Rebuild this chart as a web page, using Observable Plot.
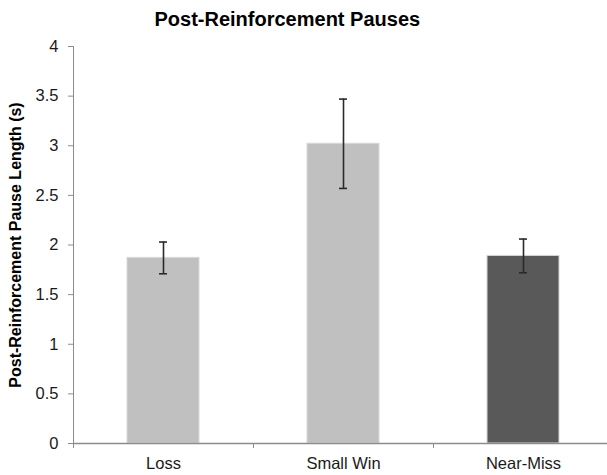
<!DOCTYPE html>
<html>
<head>
<meta charset="utf-8">
<script src="https://cdn.jsdelivr.net/npm/d3@7"></script>
<script src="https://cdn.jsdelivr.net/npm/@observablehq/plot@0.6"></script>
<style>
  html, body { margin: 0; padding: 0; background: #fff; overflow: hidden; }
  #chart svg { display: block; max-width: none !important; }
</style>
</head>
<body>
<div id="chart"></div>
<script>
// Mean post-reinforcement pause length by outcome, with error bars
const categories = ["Loss", "Small Win", "Near-Miss"];
const means = [1.87, 3.02, 1.89];
const errLow = [1.71, 2.57, 1.72];
const errHigh = [2.03, 3.47, 2.06];
const barColors = ["#c0c0c0", "#c0c0c0", "#595959"];
const yTicks = [0, 0.5, 1, 1.5, 2, 2.5, 3, 3.5, 4];
const title = "Post-Reinforcement Pauses";
const yLabel = "Post-Reinforcement Pause Length (s)";

const data = categories.map((c, i) => ({
  category: c, mean: means[i], low: errLow[i], high: errHigh[i], color: barColors[i]
}));

const axisGray = "#8c8c8c";
const font = "'Liberation Sans', Arial, sans-serif";

const chart = Plot.plot({
  width: 613,
  height: 475,
  marginTop: 46,
  marginBottom: 32,
  marginLeft: 73,
  marginRight: 0,
  style: { fontFamily: font, color: "#1a1a1a", background: "#fff" },
  x: { domain: categories, paddingInner: 0.6, paddingOuter: 0.3, label: null },
  y: { domain: [0, 4], label: null },
  color: { type: "identity" },
  marks: [
    // vertical value axis line
    Plot.ruleX([categories[0]], { x: d => d, dx: -90, y1: 0, y2: 4, stroke: axisGray, strokeWidth: 1 }),
    // category boundary ticks below the baseline
    Plot.ruleX(categories, { x: d => d, dx: -90, y1: 0, y2: -0.05, stroke: axisGray, strokeWidth: 1 }),
    Plot.barY(data, { x: "category", y: "mean", fill: "color", stroke: "#d8d8d8", strokeWidth: 1 }),
    Plot.ruleY([0], { stroke: axisGray, strokeWidth: 1.5 }),
    Plot.ruleX(data, { x: "category", y1: "low", y2: "high", stroke: "#2a2a2a", strokeWidth: 1.6 }),
    Plot.tickY(data, { x: "category", y: "low", stroke: "#2a2a2a", strokeWidth: 1.6, insetLeft: 32, insetRight: 32 }),
    Plot.tickY(data, { x: "category", y: "high", stroke: "#2a2a2a", strokeWidth: 1.6, insetLeft: 32, insetRight: 32 }),
    Plot.axisY({ ticks: yTicks, tickFormat: d => String(d), tickSize: 5, tickPadding: 10, fontSize: 16.5, stroke: axisGray, fill: "#1a1a1a", label: null }),
    Plot.axisX({ tickSize: 0, tickPadding: 14, fontSize: 16.5, fill: "#1a1a1a", label: null }),
    Plot.text([yLabel], { frameAnchor: "left", dx: -58, rotate: -90, textAnchor: "middle", fontSize: 16, fontWeight: "bold", fill: "#000" }),
    Plot.text([title], { frameAnchor: "top-left", dx: 81, dy: -21, textAnchor: "start", lineAnchor: "bottom", fontSize: 20, fontWeight: "bold", fill: "#000" })
  ]
});

document.getElementById("chart").appendChild(chart);
</script>
</body>
</html>
